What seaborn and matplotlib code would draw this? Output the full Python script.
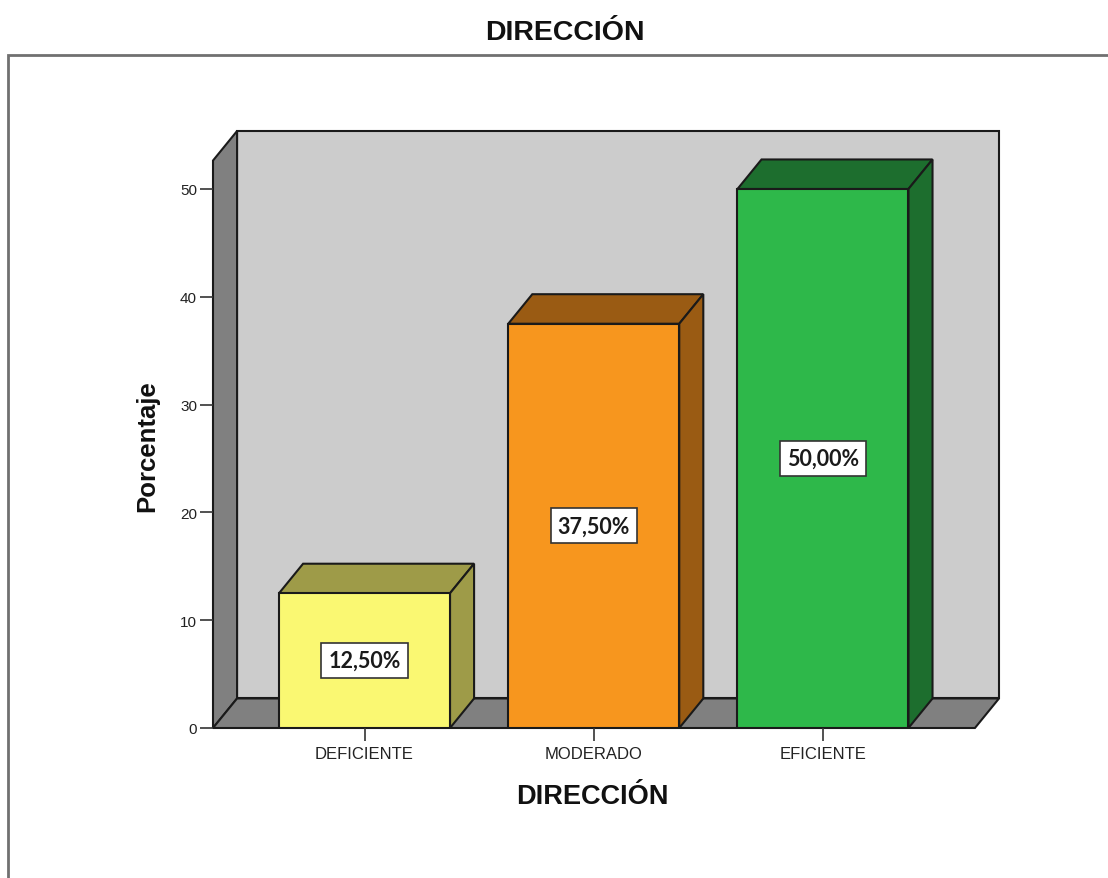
import matplotlib
matplotlib.use("Agg")
import matplotlib.pyplot as plt
import seaborn as sns
from matplotlib.patches import Polygon, Rectangle

# Data
categorias = ["DEFICIENTE", "MODERADO", "EFICIENTE"]
porcentajes = [12.5, 37.5, 50.0]
etiquetas = ["12,50%", "37,50%", "50,00%"]
color_frente = ["#FAF872", "#F7961E", "#2EB84A"]
color_sombra = ["#9E9B48", "#9A5B13", "#1D6E2E"]
yticks = [0, 10, 20, 30, 40, 50]

sns.set_theme(style="white")
plt.rcParams["font.family"] = ["Liberation Sans", "DejaVu Sans"]

W, H = 1108, 879
fig = plt.figure(figsize=(W / 100, H / 100), dpi=100)
ax = fig.add_axes([213 / W, 1 - 729 / H, (999 - 213) / W, (729 - 132) / H])

# Bars (front faces) through seaborn
sns.barplot(x=categorias, y=porcentajes, hue=categorias, palette=color_frente,
            legend=False, width=0.746, saturation=1, edgecolor="#1a1a1a",
            linewidth=1.5, ax=ax)
bars = list(ax.patches)

xl, xr = -0.661, 2.768
ytop = 55.38
dx, dy = 0.105, 2.74
ax.set_xlim(xl, xr)
ax.set_ylim(0, ytop)

edge = "#1a1a1a"
# Back wall, left wall and floor of the 3D frame
ax.add_patch(Rectangle((xl + dx, dy), xr - xl - dx, ytop - dy, fc="#CCCCCC",
                       ec=edge, lw=1.5, zorder=0.3, clip_on=False))
ax.add_patch(Polygon([(xl, 0), (xl, ytop - dy), (xl + dx, ytop), (xl + dx, dy)],
                     closed=True, fc="#808080", ec=edge, lw=1.5, zorder=0.4,
                     clip_on=False))
ax.add_patch(Polygon([(xl, 0), (xr - dx, 0), (xr, dy), (xl + dx, dy)],
                     closed=True, fc="#808080", ec=edge, lw=1.5, zorder=0.4,
                     clip_on=False))

# Top and side faces plus value labels
for bar, sombra, txt in zip(bars, color_sombra, etiquetas):
    x0, w, h = bar.get_x(), bar.get_width(), bar.get_height()
    bar.set_zorder(2)
    ax.add_patch(Polygon([(x0, h), (x0 + w, h), (x0 + w + dx, h + dy), (x0 + dx, h + dy)],
                         closed=True, fc=sombra, ec=edge, lw=1.5, zorder=1.9))
    ax.add_patch(Polygon([(x0 + w, 0), (x0 + w + dx, dy), (x0 + w + dx, h + dy), (x0 + w, h)],
                         closed=True, fc=sombra, ec=edge, lw=1.5, zorder=1.9))
    ax.text(x0 + w / 2, h / 2, txt, ha="center", va="center", fontsize=15.5,
            fontweight="bold", family=["Lato", "DejaVu Sans"], color="#1a1a1a",
            zorder=5,
            bbox=dict(boxstyle="square,pad=0.32", fc="white", ec="#333333", lw=1.2))

for s in ax.spines.values():
    s.set_visible(False)
ax.set_yticks(yticks)
ax.tick_params(axis="y", left=True, length=9.5, width=1.2, color="#333333",
               pad=2, labelsize=11, labelcolor="#222222")
ax.tick_params(axis="x", bottom=True, length=9, width=1.2, color="#333333",
               pad=4, labelsize=12, labelcolor="#222222")
ax.set_xlabel("")
ax.set_ylabel("")

fig.text(565 / W, 1 - 33 / H, "DIRECCIÓN", ha="center", va="center",
         fontsize=20.5, fontweight="bold", color="#111111")
fig.text(592 / W, 1 - 797 / H, "DIRECCIÓN", ha="center", va="center",
         fontsize=19.5, fontweight="bold", color="#111111")
fig.text(147 / W, 1 - 446 / H, "Porcentaje", ha="center", va="center",
         rotation=90, fontsize=18.5, fontweight="bold", color="#111111")

# Outer frame of the chart area
fig.add_artist(Rectangle((8 / W, -0.05), 1.2, 1 - 56 / H + 0.05,
                         transform=fig.transFigure, fill=False,
                         ec="#707070", lw=2))

fig.savefig("out.png", dpi=100)
